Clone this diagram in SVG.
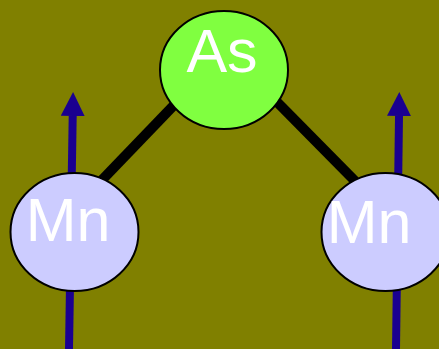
<svg xmlns="http://www.w3.org/2000/svg" width="439" height="349" viewBox="0 0 439 349">
<style>
.bond{stroke:#000;stroke-width:10;stroke-linecap:butt}
.spin{stroke:#1a0090;stroke-width:8;fill:none}
.mn{fill:#ccccff;stroke:#000;stroke-width:2}
.as{fill:#80ff40;stroke:#000;stroke-width:2}
.lbl{font-family:"Liberation Sans",Arial,sans-serif;font-size:61px;fill:#fff;text-anchor:middle}
</style>
<defs>
<marker id="ah" markerUnits="userSpaceOnUse" markerWidth="24" markerHeight="24" viewBox="0 0 24 24" refX="0" refY="12" orient="auto">
<path d="M0,0 L24,12 L0,24 Z" fill="#1a0090"/>
</marker>
</defs>
<rect width="439" height="349" fill="#808000"/>
<g id="connectors">
<line class="spin" x1="69" y1="349" x2="72.7" y2="116" marker-end="url(#ah)"/>
<line class="spin" x1="396" y1="349" x2="399" y2="116" marker-end="url(#ah)"/>
<line class="bond" x1="102" y1="180" x2="177" y2="102"/>
<line class="bond" x1="277" y1="102" x2="355" y2="181"/>
</g>
<g id="as">
<ellipse class="as" cx="224" cy="70" rx="64" ry="59"/>
<text class="lbl" x="222" y="72">As</text>
</g>
<g id="mn1">
<ellipse class="mn" cx="74.5" cy="232" rx="64" ry="59"/>
<text class="lbl" x="68" y="241">Mn</text>
</g>
<g id="mn2">
<ellipse class="mn" cx="385.5" cy="232" rx="64" ry="59"/>
<text class="lbl" x="369" y="243">Mn</text>
</g>
</svg>
